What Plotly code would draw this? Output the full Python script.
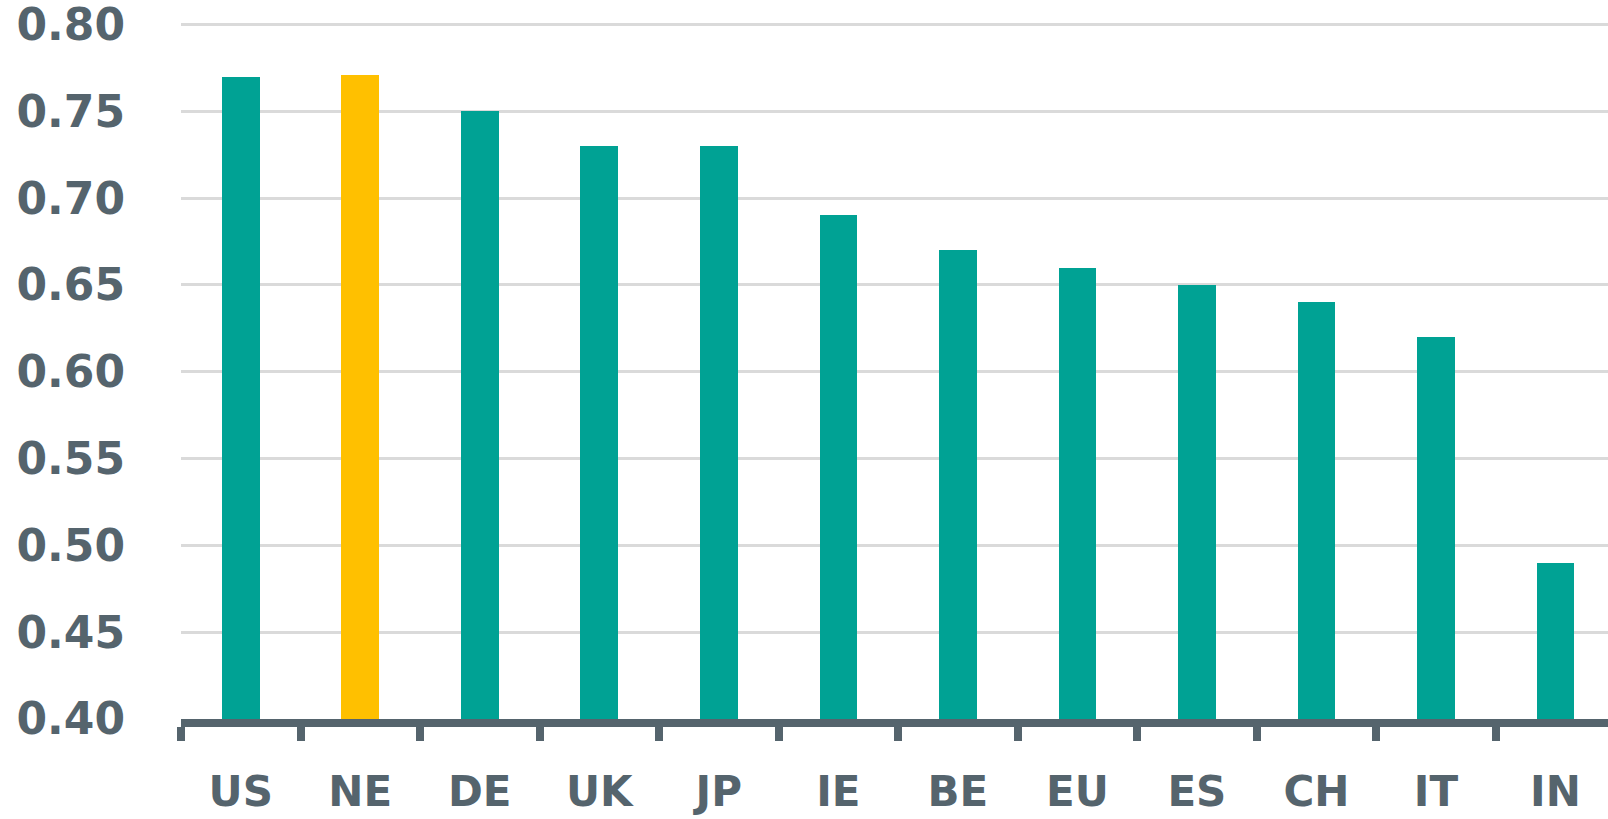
import plotly.graph_objects as go

categories = ["US", "NE", "DE", "UK", "JP", "IE", "BE", "EU", "ES", "CH", "IT", "IN"]
values = [0.77, 0.771, 0.75, 0.73, 0.73, 0.69, 0.67, 0.66, 0.65, 0.64, 0.62, 0.49]
highlight = "NE"
y_ticks = [0.40, 0.45, 0.50, 0.55, 0.60, 0.65, 0.70, 0.75, 0.80]
y_tick_labels = ["0.40", "0.45", "0.50", "0.55", "0.60", "0.65", "0.70", "0.75", "0.80"]

TEAL = "#00A294"
YELLOW = "#FFC000"
DARK = "#55646D"
BASE = 0.40

colors = [YELLOW if c == highlight else TEAL for c in categories]

fig = go.Figure(go.Bar(
    x=categories,
    y=[v - BASE for v in values],
    base=BASE,
    marker=dict(color=colors, line=dict(width=0)),
    width=0.315,
    hoverinfo="skip",
))

fig.update_layout(
    template="none",
    width=1608, height=819,
    margin=dict(l=181, r=0, t=21, b=100),
    paper_bgcolor="white", plot_bgcolor="white",
    showlegend=False,
    bargap=0,
)
fig.update_xaxes(
    type="category",
    automargin=False,
    range=[-0.5, 11.44],
    showline=True, linewidth=8, linecolor=DARK,
    ticks="outside", tickson="boundaries", ticklen=14, tickwidth=8, tickcolor=DARK,
    showgrid=False, zeroline=False,
    tickfont=dict(family="DejaVu Sans", size=42, color=DARK, weight="bold"),
    ticklabelstandoff=29,
    ticklabeloverflow="allow",
)
fig.update_yaxes(
    automargin=False,
    range=[0.40, 0.802],
    tickvals=y_ticks, ticktext=y_tick_labels,
    showgrid=True, gridcolor="#DADADA", gridwidth=3,
    showline=False, ticks="", zeroline=False,
    tickfont=dict(family="DejaVu Sans", size=44, color=DARK, weight="bold"),
    ticklabelstandoff=55,
    ticklabeloverflow="allow",
)

fig.write_html(
    "out.html",
    config={"displayModeBar": False},
    post_script="document.body.style.margin='0';document.body.style.overflow='hidden';",
)
